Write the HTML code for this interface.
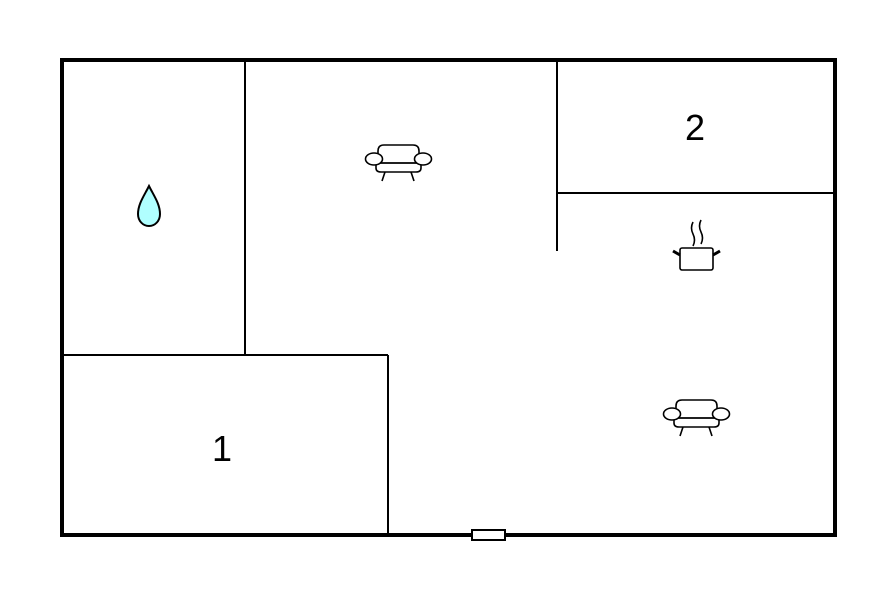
<!DOCTYPE html>
<html><head><style>body{margin:0;background:#fff}</style></head><body>
<svg width="896" height="597" xmlns="http://www.w3.org/2000/svg">
<defs>
<g id="sofa" fill="#fff" stroke="#000" stroke-width="1.6">
<line x1="385" y1="172" x2="382" y2="181"/><line x1="411" y1="172" x2="414" y2="181"/>
<path d="M378 163 V151 Q378 145 384 145 H413 Q419 145 419 151 V163"/>
<path d="M376 163 V168 Q376 172 381 172 H416 Q421 172 421 168 V163 Z"/>
<line x1="376" y1="163" x2="421" y2="163"/>
<ellipse cx="374" cy="159" rx="8.5" ry="6"/><ellipse cx="423" cy="159" rx="8.5" ry="6"/>
</g>
</defs>
<rect x="62" y="60" width="773" height="475" fill="none" stroke="#000" stroke-width="4"/>
<g stroke="#000" stroke-width="2" fill="none">
<line x1="245" y1="60" x2="245" y2="355"/>
<line x1="62" y1="355" x2="388" y2="355"/>
<line x1="388" y1="355" x2="388" y2="535"/>
<line x1="557" y1="60" x2="557" y2="251"/>
<line x1="557" y1="193" x2="835" y2="193"/>
</g>
<rect x="472" y="530" width="33" height="10" fill="#fff" stroke="#000" stroke-width="2"/>
<text x="222" y="461" font-family="Liberation Sans, sans-serif" font-size="36" text-anchor="middle">1</text>
<text x="695" y="140" font-family="Liberation Sans, sans-serif" font-size="36" text-anchor="middle">2</text>
<path d="M149 186 C144 196 138 204 138 214 C138 221 143 226 149 226 C155 226 160 221 160 214 C160 204 154 196 149 186 Z" fill="#b0ffff" stroke="#000" stroke-width="2"/>
<use href="#sofa"/>
<use href="#sofa" transform="translate(298,255)"/>
<g stroke="#000" stroke-width="1.6" fill="none">
<rect x="680" y="248" width="33" height="22" rx="2" fill="#fff"/>
<line x1="680" y1="255" x2="673" y2="251" stroke-width="3"/>
<line x1="713" y1="255" x2="720" y2="251" stroke-width="3"/>
<path d="M693 222 Q690 228 693 234 Q696 240 693 246"/>
<path d="M701 220 Q698 226 701 232 Q704 238 701 244"/>
</g>
</svg>
</body></html>
